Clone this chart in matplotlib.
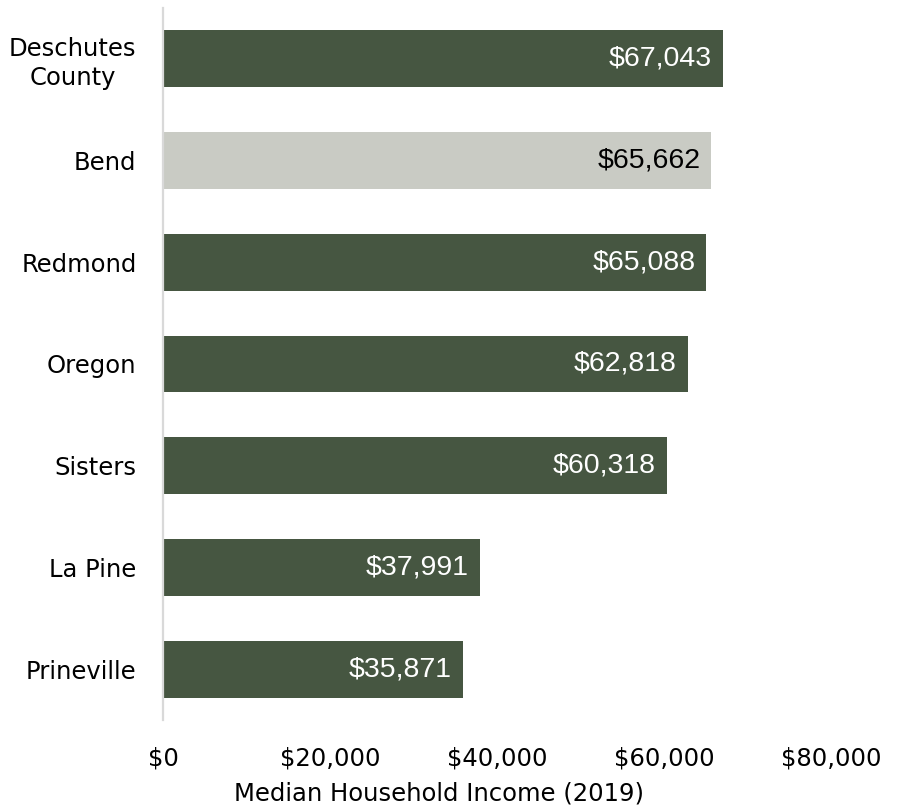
import matplotlib
matplotlib.use("Agg")
import matplotlib.pyplot as plt
from matplotlib.ticker import FuncFormatter

plt.rcParams["font.family"] = ["DejaVu Sans"]

# ── Dados ─────────────────────────────────────────────────────────────────────
places = ["Deschutes\nCounty", "Bend", "Redmond", "Oregon", "Sisters", "La Pine", "Prineville"]
income = [67043, 65662, 65088, 62818, 60318, 37991, 35871]
highlight = "Bend"

DARK = "#465641"
LIGHT = "#c9cbc4"

fig = plt.figure(figsize=(8.99, 8.10), dpi=100)
ax = fig.add_axes([163 / 899, 1 - 720 / 810, 668 / 899, 712 / 810])

ypos = list(range(len(places)))[::-1]
colors = [LIGHT if p == highlight else DARK for p in places]
bars = ax.barh(ypos, income, height=0.56, color=colors, zorder=2)

# rótulos de valor dentro da barra, alinhados à direita
for bar, val, p in zip(bars, income, places):
    txt_color = "black" if p == highlight else "white"
    ax.annotate(f"${val:,}", (val, bar.get_y() + bar.get_height() / 2),
                xytext=(-8, 0), textcoords="offset points",
                ha="right", va="center", fontsize=20.5, color=txt_color,
                family="Liberation Sans")

ax.set_xlim(0, 80000)
ax.set_ylim(-0.5, len(places) - 0.5)
ax.set_xticks([0, 20000, 40000, 60000, 80000])
ax.xaxis.set_major_formatter(FuncFormatter(lambda v, _: f"${v:,.0f}"))
ax.set_yticks(ypos)
ax.set_yticklabels(places, multialignment="center", linespacing=1.25)
ax.tick_params(axis="both", length=0, labelsize=17.5)
ax.tick_params(axis="x", pad=19)
ax.tick_params(axis="y", pad=19)

for side in ["top", "right", "bottom"]:
    ax.spines[side].set_visible(False)
ax.spines["left"].set_color("#d9d9d9")
ax.spines["left"].set_linewidth(1.6)

fig.text(439 / 899, 1 - 793 / 810, "Median Household Income (2019)",
         ha="center", va="center", fontsize=17.5)

fig.savefig("out.png", dpi=100)
